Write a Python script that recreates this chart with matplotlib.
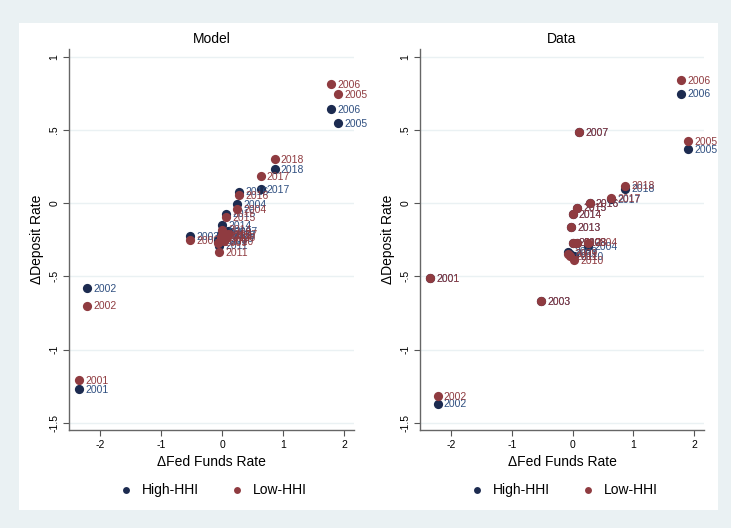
import matplotlib
matplotlib.use("Agg")
import matplotlib.pyplot as plt
import matplotlib.patches as patches

plt.rcParams['font.family'] = ['Liberation Sans', 'DejaVu Sans']

# years and change in fed funds rate (same x for both groups)
years = [2001, 2002, 2003, 2004, 2005, 2006, 2007, 2008, 2009,
         2010, 2011, 2012, 2013, 2014, 2015, 2016, 2017, 2018]
fed_funds = [-2.35, -2.22, -0.52, 0.25, 1.90, 1.79, 0.10, 0.07, -0.07,
             0.03, -0.05, 0.00, -0.02, 0.00, 0.07, 0.28, 0.63, 0.86]

# Model panel: change in deposit rate
model_high = [-1.27, -0.58, -0.225, -0.005, 0.55, 0.645, -0.19, -0.22, -0.25,
              -0.24, -0.29, -0.20, -0.21, -0.15, -0.07, 0.08, 0.095, 0.235]
model_low = [-1.21, -0.70, -0.25, -0.04, 0.745, 0.815, -0.21, -0.235, -0.27,
             -0.26, -0.335, -0.22, -0.23, -0.18, -0.095, 0.055, 0.185, 0.30]

# Data panel: change in deposit rate
data_high = [-0.51, -1.37, -0.67, -0.295, 0.37, 0.75, 0.486, -0.27, -0.33,
             -0.36, -0.345, -0.27, -0.165, -0.075, -0.03, 0.0, 0.03, 0.10]
data_low = [-0.51, -1.32, -0.67, -0.27, 0.425, 0.84, 0.486, -0.27, -0.345,
            -0.39, -0.36, -0.27, -0.165, -0.075, -0.03, 0.0, 0.034, 0.12]

yticks = [-1.5, -1, -0.5, 0, 0.5, 1]
ytick_labels = ["-1.5", "-1", "-.5", "0", ".5", "1"]
xticks = [-2, -1, 0, 1, 2]

navy = "#1c2b50"
navy_txt = "#2f4f80"
maroon = "#8f3b40"
bg = "#eaf1f3"
grid = "#eaf1f3"

fig = plt.figure(figsize=(7.31, 5.28), dpi=100)
fig.patch.set_facecolor(bg)
fig.patches.append(patches.Rectangle((19 / 731, 1 - 510 / 528), 699 / 731, 487 / 528,
                                     transform=fig.transFigure, facecolor="white",
                                     edgecolor="none", zorder=-5))


def panel(ax, title, high, low):
    ax.set_facecolor("white")
    ax.scatter(fed_funds, high, s=44, color=navy, zorder=3, label="High-HHI", linewidths=0)
    for x, y, yr in zip(fed_funds, high, years):
        ax.annotate(str(yr), (x, y), xytext=(4.5, -0.5), textcoords="offset points",
                    va="center", ha="left", fontsize=7.5, color=navy_txt, zorder=3)
    ax.scatter(fed_funds, low, s=44, color=maroon, zorder=4, label="Low-HHI", linewidths=0)
    for x, y, yr in zip(fed_funds, low, years):
        ax.annotate(str(yr), (x, y), xytext=(4.5, -0.5), textcoords="offset points",
                    va="center", ha="left", fontsize=7.5, color=maroon, zorder=4)
    ax.set_xlim(-2.51, 2.16)
    ax.set_ylim(-1.55, 1.055)
    ax.set_xticks(xticks)
    ax.set_xticklabels([str(t) for t in xticks], fontsize=7.5)
    ax.set_yticks(yticks)
    ax.set_yticklabels(ytick_labels, fontsize=7.5, rotation=90, va="center")
    ax.tick_params(direction="out", length=4, width=0.8, color="#555555", pad=3)
    for yv in yticks:
        ax.axhline(yv, color=grid, lw=1, zorder=1)
    for s in ["top", "right"]:
        ax.spines[s].set_visible(False)
    for s in ["left", "bottom"]:
        ax.spines[s].set_color("#666666")
        ax.spines[s].set_linewidth(1)
    ax.set_title(title, fontsize=10, pad=4)
    ax.set_xlabel("\u0394Fed Funds Rate", fontsize=10, labelpad=4)
    ax.set_ylabel("\u0394Deposit Rate", fontsize=10, labelpad=4)
    ax.legend(loc="center", bbox_to_anchor=(0.5, -0.157), ncol=2, frameon=False,
              fontsize=10, handletextpad=0.4, columnspacing=2.0, scatterpoints=1,
              markerscale=0.75, handlelength=1.5)


ax1 = fig.add_axes([69 / 731, 1 - 430 / 528, 285 / 731, 381 / 528])
ax2 = fig.add_axes([420 / 731, 1 - 430 / 528, 284 / 731, 381 / 528])
panel(ax1, "Model", model_high, model_low)
panel(ax2, "Data", data_high, data_low)

fig.savefig("out.png", dpi=100, facecolor=fig.get_facecolor())
